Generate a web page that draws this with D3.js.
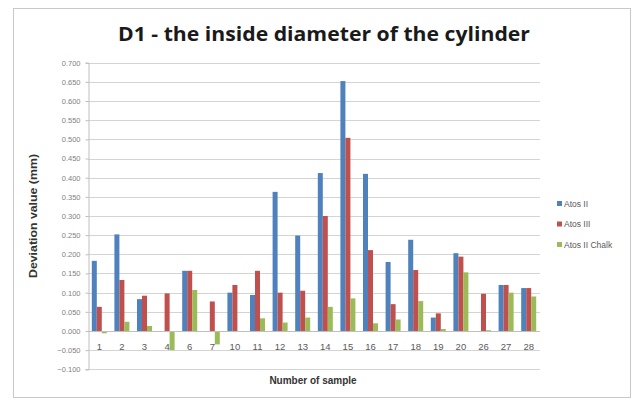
<!DOCTYPE html>
<html>
<head>
<meta charset="utf-8">
<script src="https://cdn.jsdelivr.net/npm/d3@7"></script>
<style>
  html, body { margin: 0; padding: 0; background: #ffffff; }
  svg { display: block; }
</style>
</head>
<body>
<svg id="chart" width="637" height="401"></svg>
<script>
// Sample numbers along the x axis
const samples = ["1", "2", "3", "4", "6", "7", "10", "11", "12", "13", "14", "15", "16", "17", "18", "19", "20", "26", "27", "28"];

// Deviation of D1 (mm) per material
const atosII      = [0.183, 0.252, 0.083, 0, 0.157, 0, 0.100, 0.094, 0.363, 0.249, 0.412, 0.652, 0.410, 0.180, 0.238, 0.035, 0.203, 0, 0.120, 0.112];
const atosIII     = [0.063, 0.133, 0.092, 0.098, 0.157, 0.077, 0.120, 0.157, 0.100, 0.105, 0.300, 0.504, 0.211, 0.070, 0.159, 0.046, 0.194, 0.097, 0.120, 0.112];
const atosIIChalk = [-0.006, 0.024, 0.013, -0.050, 0.107, -0.035, 0, 0.033, 0.022, 0.035, 0.063, 0.085, 0.020, 0.030, 0.078, 0.005, 0.153, 0.002, 0.100, 0.090];

const seriesNames  = ["Atos II", "Atos III", "Atos II Chalk"];
const seriesColors = ["#4f81bd", "#c0504d", "#9bbb59"];
const yTicks = [-0.1, -0.05, 0, 0.05, 0.1, 0.15, 0.2, 0.25, 0.3, 0.35, 0.4, 0.45, 0.5, 0.55, 0.6, 0.65, 0.7];

const seriesValues = [atosII, atosIII, atosIIChalk];
const rows = samples.map((s, i) => ({
  sample: s,
  values: seriesNames.map((n, k) => ({ name: n, value: seriesValues[k][i], color: seriesColors[k] }))
}));

const svg = d3.select("#chart");
const plot = { left: 88, right: 540, top: 62.7, bottom: 369.3 };

// chart frame
svg.append("rect")
  .attr("x", 13.5).attr("y", 8.5)
  .attr("width", 617).attr("height", 389)
  .attr("fill", "#ffffff").attr("stroke", "#c8c8c8").attr("stroke-width", 1);

const x0 = d3.scaleBand().domain(samples).range([plot.left, plot.right]).padding(0);
const groupPad = (x0.bandwidth() - 15) / 2;
const x1 = d3.scaleBand().domain(seriesNames).range([groupPad, x0.bandwidth() - groupPad]).padding(0);
const y = d3.scaleLinear().domain([-0.1, 0.7]).range([plot.bottom, plot.top]);

// horizontal gridlines
svg.append("g")
  .selectAll("line")
  .data(yTicks)
  .join("line")
  .attr("x1", plot.left).attr("x2", plot.right)
  .attr("y1", d => Math.round(y(d)) + 0.5).attr("y2", d => Math.round(y(d)) + 0.5)
  .attr("stroke", "#d4d4d4").attr("stroke-width", 1);

// y axis
const yAxis = d3.axisLeft(y)
  .tickValues(yTicks)
  .tickFormat(d3.format(".3f"))
  .tickSize(3)
  .tickPadding(5);
const yg = svg.append("g").attr("transform", `translate(${plot.left + 0.5},0)`).call(yAxis);
yg.select(".domain").attr("stroke", "#bfbfbf");
yg.selectAll(".tick line").attr("stroke", "#bfbfbf");
yg.selectAll(".tick text")
  .attr("fill", "#7f7f7f")
  .style("font-family", "'Liberation Sans', Arial, sans-serif")
  .style("font-size", "7.5px");

// bars
const groups = svg.append("g")
  .selectAll("g")
  .data(rows)
  .join("g")
  .attr("transform", d => `translate(${x0(d.sample)},0)`);

groups.selectAll("rect")
  .data(d => d.values)
  .join("rect")
  .attr("x", d => x1(d.name))
  .attr("width", x1.bandwidth())
  .attr("y", d => y(Math.max(0, d.value)))
  .attr("height", d => Math.abs(y(d.value) - y(0)))
  .attr("fill", d => d.color);

// category axis line at zero
svg.append("line")
  .attr("x1", plot.left).attr("x2", plot.right)
  .attr("y1", Math.round(y(0)) + 0.5).attr("y2", Math.round(y(0)) + 0.5)
  .attr("stroke", "#bfbfbf");

// category labels
const xAxis = d3.axisBottom(x0).tickSize(0).tickPadding(0);
const xg = svg.append("g").attr("transform", `translate(0,${y(0) + 12})`).call(xAxis);
xg.select(".domain").remove();
xg.selectAll(".tick text")
  .attr("fill", "#595959")
  .style("font-family", "'Liberation Sans', Arial, sans-serif")
  .style("font-size", "9.5px");

// title
svg.append("text")
  .attr("x", 324).attr("y", 41)
  .attr("text-anchor", "middle")
  .attr("textLength", 412)
  .attr("lengthAdjust", "spacingAndGlyphs")
  .style("font-family", "'Open Sans', 'Liberation Sans', sans-serif")
  .style("font-weight", "bold")
  .style("font-size", "20px")
  .attr("fill", "#1a1a1a")
  .text("D1 - the inside diameter of the cylinder");

// axis titles
svg.append("text")
  .attr("transform", `translate(37,${(plot.top + plot.bottom) / 2}) rotate(-90)`)
  .attr("text-anchor", "middle")
  .attr("textLength", 124)
  .attr("lengthAdjust", "spacingAndGlyphs")
  .style("font-family", "'Liberation Sans', Arial, sans-serif")
  .style("font-weight", "bold")
  .style("font-size", "10.5px")
  .attr("fill", "#333333")
  .text("Deviation value  (mm)");

svg.append("text")
  .attr("x", 313).attr("y", 384)
  .attr("text-anchor", "middle")
  .style("font-family", "'Liberation Sans', Arial, sans-serif")
  .style("font-weight", "bold")
  .style("font-size", "10px")
  .attr("fill", "#333333")
  .text("Number of sample");

// legend
const legend = svg.append("g")
  .selectAll("g")
  .data(seriesNames)
  .join("g")
  .attr("transform", (d, i) => `translate(557,${204 + i * 20.5})`);
legend.append("rect")
  .attr("x", 0).attr("y", -3)
  .attr("width", 5).attr("height", 5)
  .attr("fill", (d, i) => seriesColors[i]);
legend.append("text")
  .attr("x", 7).attr("y", 2.5)
  .style("font-family", "'Liberation Sans', Arial, sans-serif")
  .style("font-size", "8.5px")
  .attr("fill", "#595959")
  .text(d => d);
</script>
</body>
</html>
